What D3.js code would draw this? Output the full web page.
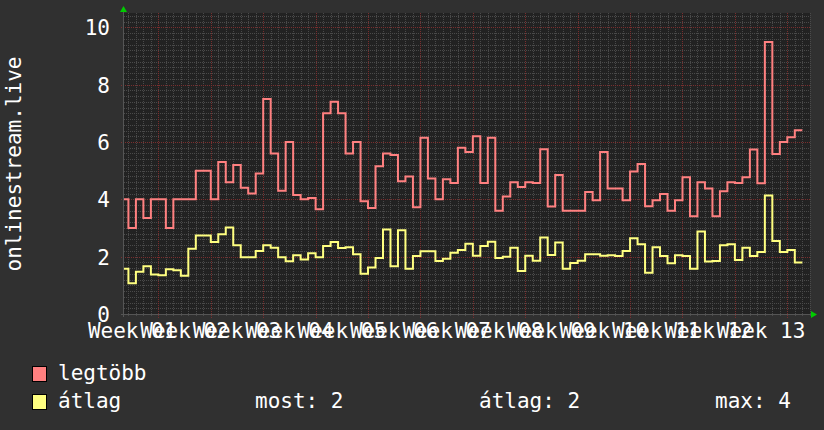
<!DOCTYPE html>
<html><head><meta charset="utf-8">
<script src="https://cdn.jsdelivr.net/npm/d3@7"></script>
<style>
html,body{margin:0;padding:0;background:#303030;}
svg{display:block;}
text{font-family:"DejaVu Sans Mono",monospace;fill:#ffffff;}
</style></head><body>
<script>
// day index of first value (partial day at left edge)
const firstDay = -1;
const legtobb = [4.0,3.0,4.0,3.35,4.0,4.0,3.0,4.0,4.0,4.0,
 5.0,5.0,4.0,5.3,4.6,5.2,4.4,4.2,4.9,7.5,
 5.6,4.3,6.0,4.15,4.0,4.05,3.65,7.0,7.4,7.0,
 5.6,6.0,3.93,3.7,5.15,5.6,5.55,4.63,4.8,3.72,
 6.15,4.73,4.0,4.7,4.57,5.8,5.65,6.2,4.57,6.15,
 3.6,4.1,4.6,4.43,4.6,4.57,5.75,3.75,4.85,3.6,
 3.6,3.6,4.26,3.97,5.65,4.38,4.38,3.97,4.97,5.23,
 3.76,3.97,4.19,3.6,3.97,4.77,3.41,4.6,4.38,3.41,
 4.28,4.6,4.57,4.77,5.74,4.56,9.49,5.58,6.0,6.17,6.41];
const atlag = [1.58,1.07,1.47,1.67,1.38,1.35,1.56,1.53,1.33,2.28,
 2.74,2.74,2.51,2.78,3.02,2.4,1.98,1.98,2.2,2.4,
 2.31,1.98,1.84,2.05,1.9,2.12,1.98,2.37,2.51,2.3,
 2.33,2.08,1.4,1.62,1.95,2.95,1.67,2.92,1.58,2.02,
 2.19,2.19,1.85,1.93,2.14,2.23,2.45,2.03,2.37,2.52,
 1.95,2.0,2.31,1.5,2.03,1.86,2.67,2.06,2.49,1.58,
 1.78,1.86,2.08,2.08,2.03,2.05,2.02,2.2,2.64,2.43,
 1.44,2.33,2.02,1.77,2.05,2.02,1.58,2.88,1.83,1.85,
 2.4,2.43,1.88,2.31,2.02,2.16,4.13,2.55,2.16,2.23,1.8];
const weekLabels = ["Week 01","Week 02","Week 03","Week 04","Week 05","Week 06","Week 07",
 "Week 08","Week 09","Week 10","Week 11","Week 12","Week 13"];
const yTicks = [0,2,4,6,8,10];
const seriesNames = ["legtöbb","átlag"];
const seriesColors = ["#ff8080","#ffff80"];
const statLabels = ["most: 2","átlag: 2","max: 4"];

const W=824,H=430;
const L=124,R=810,T=13,B=314;
const svg=d3.select("body").append("svg").attr("width",W).attr("height",H);
svg.append("rect").attr("width",W).attr("height",H).attr("fill","#303030");
svg.append("rect").attr("x",L).attr("y",T).attr("width",R-L).attr("height",B-T).attr("fill","#222222");

const x=d3.scaleLinear().domain([-0.59,91.03]).range([L,R]);
const y=d3.scaleLinear().domain([0,10.5]).range([B,T]);

const g=svg.append("g");
// minor grid
const minorH=d3.range(0.2,10.5,0.2).filter(v=>Math.abs(v/2-Math.round(v/2))>0.01);
g.selectAll(".mh").data(minorH).join("line")
 .attr("x1",L).attr("x2",R).attr("y1",d=>Math.round(y(d))+0.5).attr("y2",d=>Math.round(y(d))+0.5)
 .attr("stroke","#4a4a4a").attr("stroke-dasharray","1,1");
const minorV=d3.range(0,92).filter(d=>(d-4)%7!==0);
g.selectAll(".mv").data(minorV).join("line")
 .attr("y1",T).attr("y2",B+2).attr("x1",d=>Math.round(x(d))+0.5).attr("x2",d=>Math.round(x(d))+0.5)
 .attr("stroke","#4a4a4a").attr("stroke-dasharray","1,1");
// major grid
g.selectAll(".Mh").data(yTicks.filter(v=>v>0)).join("line")
 .attr("x1",L-3).attr("x2",R).attr("y1",d=>Math.round(y(d))+0.5).attr("y2",d=>Math.round(y(d))+0.5)
 .attr("stroke","#7a2e2e").attr("stroke-dasharray","1,1");
const majorV=d3.range(4,92,7);
g.selectAll(".Mv").data(majorV).join("line")
 .attr("y1",T).attr("y2",B+4).attr("x1",d=>Math.round(x(d))+0.5).attr("x2",d=>Math.round(x(d))+0.5)
 .attr("stroke","#7a2e2e").attr("stroke-dasharray","1,1");

// axes lines
svg.append("line").attr("x1",L-0.5).attr("x2",L-0.5).attr("y1",T-3).attr("y2",B+3).attr("stroke","#555555");
svg.append("line").attr("x1",L-3).attr("x2",R+2).attr("y1",B+0.5).attr("y2",B+0.5).attr("stroke","#555555");
svg.append("path").attr("d",`M${L-4},${T-1}L${L+3},${T-1}L${L-0.5},${T-7}Z`).attr("fill","#00cc00");
svg.append("path").attr("d",`M${R+1},${B-3}L${R+1},${B+4}L${R+7},${B+0.5}Z`).attr("fill","#00cc00");

// series (step)
const clip=svg.append("clipPath").attr("id","c").append("rect").attr("x",L).attr("y",T).attr("width",R-L).attr("height",B-T);
function pts(arr){const p=arr.map((v,i)=>[firstDay+i,v]);p.push([firstDay+arr.length,arr[arr.length-1]]);return p;}
const line=d3.line().x(d=>x(d[0])).y(d=>y(d[1])).curve(d3.curveStepAfter);
[atlag,legtobb].forEach((arr,k)=>{
 svg.append("path").attr("clip-path","url(#c)").attr("d",line(pts(arr)))
  .attr("fill","none").attr("stroke",k===0?seriesColors[1]:seriesColors[0]).attr("stroke-width",2).attr("stroke-linejoin","miter");
});

// y tick labels
svg.selectAll(".yl").data(yTicks).join("text")
 .attr("x",110).attr("y",d=>y(d)+8).attr("text-anchor","end").attr("font-size",21).text(d=>d);
// x labels
svg.selectAll(".xl").data(weekLabels).join("text")
 .attr("x",(d,i)=>x(0.5+7*i)).attr("y",338).attr("text-anchor","middle").attr("font-size",21).text(d=>d);
// y title
svg.append("text").attr("transform","translate(21,164) rotate(-90)").attr("text-anchor","middle")
 .attr("font-size",21).text("onlinestream.live");

// legend
const lg=svg.append("g");
[0,1].forEach(i=>{
 const yy=366+i*28;
 lg.append("rect").attr("x",32.5).attr("y",yy+0.5).attr("width",14).attr("height",15)
  .attr("fill",seriesColors[i]).attr("stroke","#000").attr("stroke-width",1);
 lg.append("text").attr("x",58).attr("y",yy+14).attr("font-size",21).text(seriesNames[i]);
});
const statX=[255,479,715];
statLabels.forEach((s,i)=>lg.append("text").attr("x",statX[i]).attr("y",408).attr("font-size",21).text(s));
</script></body></html>
